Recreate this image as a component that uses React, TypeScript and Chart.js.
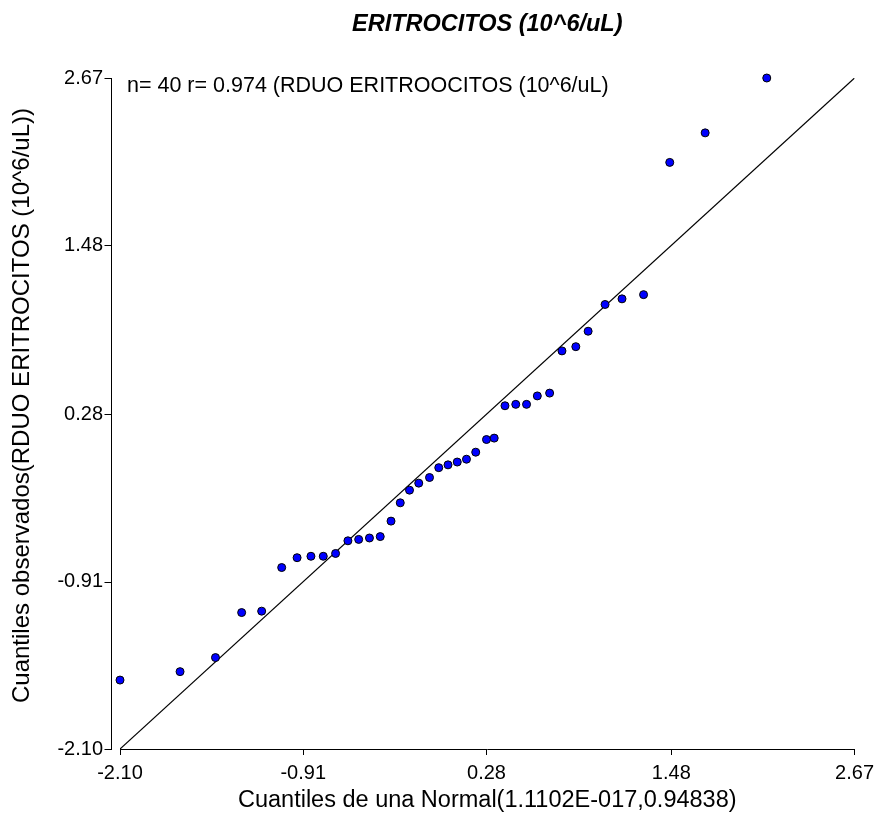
import React, { useEffect, useRef } from "react";
import { Chart, registerables } from "chart.js";

Chart.register(...registerables);

const titleText = "ERITROCITOS (10^6/uL)";
const annotationText = "n= 40 r= 0.974 (RDUO ERITROOCITOS (10^6/uL)";
const xTitle = "Cuantiles de una Normal(1.1102E-017,0.94838)";
const yTitle = "Cuantiles observados(RDUO ERITROCITOS (10^6/uL))";

const xTicks = [-2.10, -0.91, 0.28, 1.48, 2.67];
const yTicks = [-2.10, -0.91, 0.28, 1.48, 2.67];

const normalQuantiles = [
  -2.10, -1.71, -1.48, -1.31, -1.18, -1.05, -0.95, -0.86, -0.78, -0.70,
  -0.62, -0.55, -0.48, -0.41, -0.34, -0.28, -0.22, -0.16, -0.09, -0.03,
  0.03, 0.09, 0.15, 0.21, 0.28, 0.33, 0.40, 0.47, 0.54, 0.61,
  0.69, 0.77, 0.86, 0.94, 1.05, 1.16, 1.30, 1.47, 1.70, 2.10,
];
const observedQuantiles = [
  -1.61, -1.55, -1.45, -1.13, -1.12, -0.81, -0.74, -0.73, -0.73, -0.71,
  -0.62, -0.61, -0.60, -0.59, -0.48, -0.35, -0.26, -0.21, -0.17, -0.10,
  -0.08, -0.06, -0.04, 0.01, 0.10, 0.11, 0.34, 0.35, 0.35, 0.41,
  0.43, 0.73, 0.76, 0.87, 1.06, 1.10, 1.13, 2.07, 2.28, 2.67,
];
const refLineX = [-2.10, 2.67];
const refLineY = [-2.10, 2.67];

const FONT = '"Liberation Sans", Arial, sans-serif';

const customPlugin = {
  id: "customDraw",
  afterDraw(chart: any) {
    const { ctx, chartArea, scales } = chart;
    const ys = scales.y;
    const ax = Math.round(chartArea.left) - 9 + 0.5;
    ctx.save();
    ctx.strokeStyle = "#000";
    ctx.lineWidth = 1;
    ctx.beginPath();
    ctx.moveTo(ax, Math.round(chartArea.top));
    ctx.lineTo(ax, Math.round(chartArea.bottom) + 1);
    ys.ticks.forEach((t: any) => {
      const py = Math.round(ys.getPixelForValue(t.value)) + 0.5;
      ctx.moveTo(ax - 7, py);
      ctx.lineTo(ax, py);
    });
    ctx.stroke();

    ctx.fillStyle = "#000";
    ctx.font = `21.5px ${FONT}`;
    ctx.textAlign = "left";
    ctx.textBaseline = "alphabetic";
    ctx.fillText(annotationText, chartArea.left + 7, chartArea.top + 14);

    ctx.font = `italic bold 23.5px ${FONT}`;
    ctx.textAlign = "center";
    ctx.textBaseline = "middle";
    ctx.fillText(titleText, (chartArea.left + chartArea.right) / 2, 25);

    ctx.save();
    ctx.translate(22, (chartArea.top + chartArea.bottom) / 2 - 8);
    ctx.rotate(-Math.PI / 2);
    ctx.font = `24px ${FONT}`;
    ctx.textAlign = "center";
    ctx.textBaseline = "middle";
    ctx.fillText(yTitle, 0, 0);
    ctx.restore();

    ctx.restore();
  },
};

export default function App() {
  const ref = useRef<HTMLCanvasElement | null>(null);

  useEffect(() => {
    document.body.style.margin = "0";
    const canvas = ref.current;
    if (!canvas) return;
    const points = normalQuantiles.map((x, i) => ({ x, y: observedQuantiles[i] }));
    const line = refLineX.map((x, i) => ({ x, y: refLineY[i] }));
    const chart = new Chart(canvas, {
      type: "scatter",
      data: {
        datasets: [
          {
            data: points,
            backgroundColor: "#0000ff",
            borderColor: "#000",
            borderWidth: 1,
            pointRadius: 4,
            pointHoverRadius: 4,
            clip: false as any,
          },
          {
            data: line,
            showLine: true,
            borderColor: "#000",
            borderWidth: 1.2,
            pointRadius: 0,
            pointHoverRadius: 0,
          },
        ],
      },
      options: {
        animation: false,
        responsive: false,
        events: [],
        layout: { padding: { top: 78, right: 24, left: 0, bottom: 0 } },
        plugins: {
          legend: { display: false },
          tooltip: { enabled: false },
          title: { display: false },
        },
        scales: {
          x: {
            type: "linear",
            min: -2.10,
            max: 2.67,
            afterBuildTicks: (s: any) => {
              s.ticks = xTicks.map((v) => ({ value: v }));
            },
            afterFit: (s: any) => {
              s.height = 67;
            },
            ticks: {
              color: "#000",
              font: { size: 20, family: FONT },
              padding: 6,
              maxRotation: 0,
              autoSkip: false,
              callback: (v: any) => Number(v).toFixed(2),
            },
            grid: {
              display: true,
              drawOnChartArea: false,
              drawTicks: true,
              tickLength: 6,
              color: "#000",
              lineWidth: 1,
            },
            border: { display: true, color: "#000", width: 1 },
            title: {
              display: true,
              text: xTitle,
              color: "#000",
              font: { size: 23.5, family: FONT },
              padding: { top: 0, bottom: 1 },
            },
          },
          y: {
            type: "linear",
            min: -2.10,
            max: 2.67,
            afterBuildTicks: (s: any) => {
              s.ticks = yTicks.map((v) => ({ value: v }));
            },
            afterFit: (s: any) => {
              s.width = 120;
            },
            ticks: {
              color: "#000",
              font: { size: 20, family: FONT },
              padding: 17,
              autoSkip: false,
              callback: (v: any) => Number(v).toFixed(2),
            },
            grid: { display: false, drawTicks: false },
            border: { display: false },
            title: { display: false },
          },
        },
      },
      plugins: [customPlugin],
    });
    return () => chart.destroy();
  }, []);

  return (
    <div style={{ position: "absolute", left: 0, top: 0, width: 880, height: 816, background: "#fff" }}>
      <canvas ref={ref} width={880} height={816} style={{ width: 880, height: 816 }} />
    </div>
  );
}
